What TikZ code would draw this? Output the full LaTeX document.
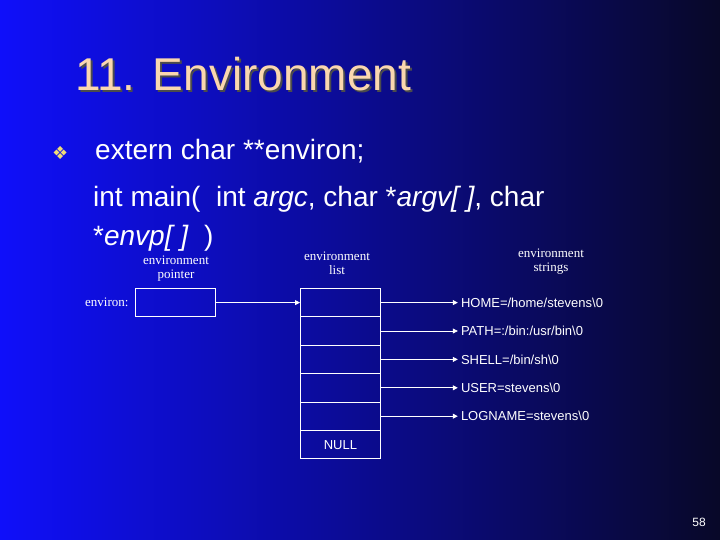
\documentclass[tikz,border=0pt]{standalone}
\usepackage{fontspec}
\setmainfont{Liberation Sans}
\newfontfamily\serif{Liberation Serif}
\newfontfamily\dejavu{DejaVu Sans}
\usetikzlibrary{arrows.meta,calc}
\definecolor{bgblue}{RGB}{15,15,250}
\definecolor{bgdark}{RGB}{8,8,40}
\definecolor{titlecol}{RGB}{250,215,175}
\definecolor{bulletcol}{RGB}{240,220,120}
\tikzset{
  cell/.style={draw=white,line width=0.8pt,minimum width=80pt,minimum height=28.4pt,inner sep=0pt,anchor=north west},
  lbl/.style={text=white,font=\serif\fontsize{13}{14}\selectfont,align=center},
  str/.style={text=white,font=\fontsize{13}{14}\selectfont,anchor=west,inner sep=0pt},
  body/.style={text=white,font=\fontsize{28}{30}\selectfont,anchor=base west,inner sep=0pt},
  ptr/.style={draw=white,line width=0.8pt,-{Triangle[length=5pt,width=5pt]}}
}
\begin{document}
\begin{tikzpicture}[x=1pt,y=-1pt]
\shade[left color=bgblue,right color=bgdark] (0,0) rectangle (720,540);
\useasboundingbox (0,0) rectangle (720,540);
% title
\node[anchor=base west,inner sep=0pt,text=black!70,font=\fontsize{46}{48}\selectfont] at (77,93) {11. Environment};
\node[anchor=base west,inner sep=0pt,text=titlecol,font=\fontsize{46}{48}\selectfont] (title) at (75,91) {11. Environment};
% text
\node[anchor=base west,inner sep=0pt,text=bulletcol,font=\dejavu\fontsize{18}{20}\selectfont] (bul) at (52,160) {❖};
\node[body] (l1) at (95,160) {extern char **environ;};
\node[body] (l2) at (93,207) {int main(\ \ int \textit{argc}, char *\textit{argv[ ]}, char};
\node[body] (l3) at (93,245) {*\textit{envp[ ]} \ )};
% labels
\node[lbl] (lptr) at (176,269) {environment\\pointer};
\node[lbl] (llist) at (337,263) {environment\\list};
\node[lbl] (lstr) at (551,262) {environment\\strings};
\node[lbl,anchor=east] (lenv) at (132,302) {environ:};
% boxes
\node[cell] (p) at (135,288) {};
\foreach \i in {0,...,5} {
  \node[cell] (c\i) at (300,288+28.4*\i) {};
}
\node[text=white,font=\fontsize{13}{14}\selectfont] at (c5) {NULL};
\draw[ptr] (p.east) -- (c0.west);
% strings
\foreach \i/\s in {0/{HOME=/home/stevens\textbackslash 0},1/{PATH=:/bin:/usr/bin\textbackslash 0},2/{SHELL=/bin/sh\textbackslash 0},3/{USER=stevens\textbackslash 0},4/{LOGNAME=stevens\textbackslash 0}} {
  \node[str] (s\i) at ($(c\i.east)+(80,0)$) {\s};
  \draw[ptr] (c\i.east) -- ($(s\i.west)+(-3,0)$);
}
\node[text=white,font=\fontsize{12}{13}\selectfont] (num) at (699,522) {58};
\end{tikzpicture}
\end{document}
